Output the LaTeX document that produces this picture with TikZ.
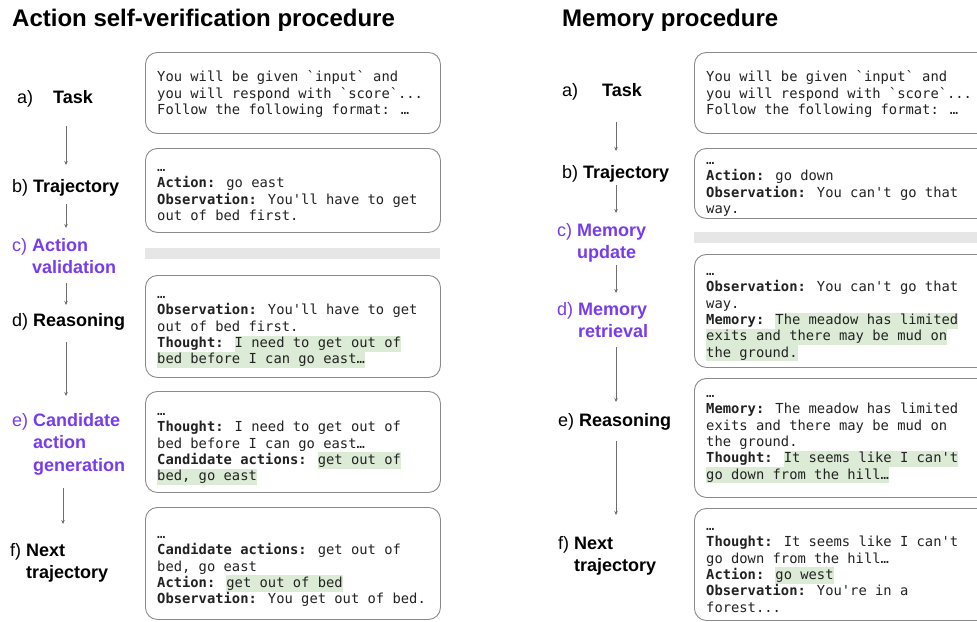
\documentclass[tikz,border=0pt]{standalone}
\usepackage{fontspec}
\setmainfont{Liberation Sans}
\newfontfamily\monof{DejaVu Sans Mono}
\usetikzlibrary{arrows.meta}
\definecolor{purp}{HTML}{763CEE}
\definecolor{hlg}{HTML}{DCEBD6}
\definecolor{boxc}{HTML}{8A8A8A}
\definecolor{barc}{HTML}{E6E6E6}
\definecolor{arrc}{HTML}{6E6E6E}
\definecolor{txtc}{HTML}{222222}
\newcommand\mybq{\textasciigrave}
\newcommand\mysq{\textquotesingle}
\newcommand\mystr{\rule[-4.3pt]{0pt}{16.3pt}}
\newcommand\myhl[1]{{\setlength{\fboxsep}{0pt}\colorbox{hlg}{\mystr#1}}}
\begin{document}
\begin{tikzpicture}[x=1pt,y=-1pt,
  box/.style={draw=boxc, line width=0.9pt, rounded corners=12pt, anchor=north west, inner sep=0pt},
  lbox/.style={box, minimum width=295pt},
  rbox/.style={box, minimum width=300pt},
  graybar/.style={fill=barc, anchor=north west, inner sep=0pt, minimum height=10.5pt},
  txt/.style={anchor=north west, inner sep=0pt, align=left, font=\monof\fontsize{13.8}{16.3}\selectfont, text=txtc},
  lab/.style={anchor=west, inner sep=0pt, font=\fontsize{18}{22.5}\selectfont, text=black},
  plab/.style={lab, text=purp},
  ttl/.style={anchor=west, inner sep=0pt, font=\bfseries\fontsize{24}{28}\selectfont},
  arr/.style={draw=arrc, line width=0.8pt, -{Stealth[length=4pt,width=3.5pt]}}
]
\clip (0,0) rectangle (977,621);
\fill[white] (0,0) rectangle (977,621);

% ---------------- Left: Action self-verification ----------------
\node[ttl] (ltitle) at (12,20) {Action self-verification procedure};

\node[lbox, minimum height=81pt]  (lba) at (145,52) {};
\node[lbox, minimum height=84pt]  (lbb) at (145,148) {};
\node[graybar, minimum width=295pt] (lbar) at (145,248) {};
\node[lbox, minimum height=102pt] (lbd) at (145,275) {};
\node[lbox, minimum height=101pt] (lbe) at (145,391) {};
\node[lbox, minimum height=112pt] (lbf) at (145,507) {};

\node[txt] (lta) at (157,69.7) {\mystr You will be given \mybq{}input\mybq{} and\\you will respond with \mybq{}score\mybq{}...\\Follow the following format: …};
\node[txt] (ltb) at (157,159.3) {\mystr…\\\textbf{Action:} go east\\\textbf{Observation:} You\mysq{}ll have to get\\out of bed first.};
\node[txt] (ltd) at (157,286.4) {\mystr…\\\textbf{Observation:} You\mysq{}ll have to get\\out of bed first.\\\textbf{Thought:} \myhl{I need to get out of}\\\myhl{bed before I can go east…}};
\node[txt] (lte) at (157,403.3) {\mystr…\\\textbf{Thought:} I need to get out of\\bed before I can go east…\\\textbf{Candidate actions:} \myhl{get out of}\\\myhl{bed, go east}};
\node[txt] (ltf) at (157,526.3) {\mystr…\\\textbf{Candidate actions:} get out of\\bed, go east\\\textbf{Action:} \myhl{get out of bed}\\\textbf{Observation:} You get out of bed.};

\node[lab] (lla) at (17,99) {a)\hspace{20pt}\textbf{Task}};
\node[lab] (llb) at (12,188) {b) \textbf{Trajectory}};
\node[plab] (llc) at (12,258) {\begin{tabular}{@{}l@{}l@{}}\mbox{c)~}&\textbf{Action}\\&\textbf{validation}\end{tabular}};
\node[lab] (lld) at (12,322) {d) \textbf{Reasoning}};
\node[plab] (lle) at (12,444) {\begin{tabular}{@{}l@{}l@{}}\mbox{e)~}&\textbf{Candidate}\\&\textbf{action}\\&\textbf{generation}\end{tabular}};
\node[lab] (llf) at (10,563) {\begin{tabular}{@{}l@{}l@{}}\mbox{f)~}&\textbf{Next}\\&\textbf{trajectory}\end{tabular}};

\coordinate (la1) at (66,126); \coordinate (la2) at (66,165);
\coordinate (lb1) at (66,204); \coordinate (lb2) at (66,228);
\coordinate (lc1) at (66,283); \coordinate (lc2) at (66,305);
\coordinate (ld1) at (66,342); \coordinate (ld2) at (66,396);
\coordinate (le1) at (63,488); \coordinate (le2) at (63,524);
\draw[arr] (la1) -- (la2);
\draw[arr] (lb1) -- (lb2);
\draw[arr] (lc1) -- (lc2);
\draw[arr] (ld1) -- (ld2);
\draw[arr] (le1) -- (le2);

% ---------------- Right: Memory ----------------
\node[ttl] (rtitle) at (562,20) {Memory procedure};

\node[rbox, minimum height=81pt]  (rba) at (694,52) {};
\node[rbox, minimum height=70pt]  (rbb) at (694,148) {};
\node[graybar, minimum width=300pt] (rbar) at (694,232) {};
\node[rbox, minimum height=113pt] (rbd) at (694,254) {};
\node[rbox, minimum height=119pt] (rbe) at (694,378) {};
\node[rbox, minimum height=112pt] (rbf) at (694,508) {};

\node[txt] (rta) at (706,69.7) {\mystr You will be given \mybq{}input\mybq{} and\\you will respond with \mybq{}score\mybq{}...\\Follow the following format: …};
\node[txt] (rtb) at (706,152.3) {\mystr…\\\textbf{Action:} go down\\\textbf{Observation:} You can\mysq{}t go that\\way.};
\node[txt] (rtd) at (706,263.4) {\mystr…\\\textbf{Observation:} You can\mysq{}t go that\\way.\\\textbf{Memory:} \myhl{The meadow has limited}\\\myhl{exits and there may be mud on}\\\myhl{the ground.}};
\node[txt] (rte) at (706,385.3) {\mystr…\\\textbf{Memory:} The meadow has limited\\exits and there may be mud on\\the ground.\\\textbf{Thought:} \myhl{It seems like I can\mysq{}t}\\\myhl{go down from the hill…}};
\node[txt] (rtf) at (706,518.3) {\mystr…\\\textbf{Thought:} It seems like I can\mysq{}t\\go down from the hill…\\\textbf{Action:} \myhl{go west}\\\textbf{Observation:} You\mysq{}re in a\\forest...};

\node[lab] (rla) at (562,92) {a)\hspace{24pt}\textbf{Task}};
\node[lab] (rlb) at (562,174) {b) \textbf{Trajectory}};
\node[plab] (rlc) at (557,243) {\begin{tabular}{@{}l@{}l@{}}\mbox{c)~}&\textbf{Memory}\\&\textbf{update}\end{tabular}};
\node[plab] (rld) at (557,322) {\begin{tabular}{@{}l@{}l@{}}\mbox{d)~}&\textbf{Memory}\\&\textbf{retrieval}\end{tabular}};
\node[lab] (rle) at (558,422) {e) \textbf{Reasoning}};
\node[lab] (rlf) at (558,556) {\begin{tabular}{@{}l@{}l@{}}\mbox{f)~}&\textbf{Next}\\&\textbf{trajectory}\end{tabular}};

\coordinate (ra1) at (616,122); \coordinate (ra2) at (616,151);
\coordinate (rb1) at (616,185); \coordinate (rb2) at (616,213);
\coordinate (rc1) at (616,265); \coordinate (rc2) at (616,293);
\coordinate (rd1) at (616,347); \coordinate (rd2) at (616,402);
\coordinate (re1) at (616,441); \coordinate (re2) at (616,515);
\draw[arr] (ra1) -- (ra2);
\draw[arr] (rb1) -- (rb2);
\draw[arr] (rc1) -- (rc2);
\draw[arr] (rd1) -- (rd2);
\draw[arr] (re1) -- (re2);
\end{tikzpicture}
\end{document}
